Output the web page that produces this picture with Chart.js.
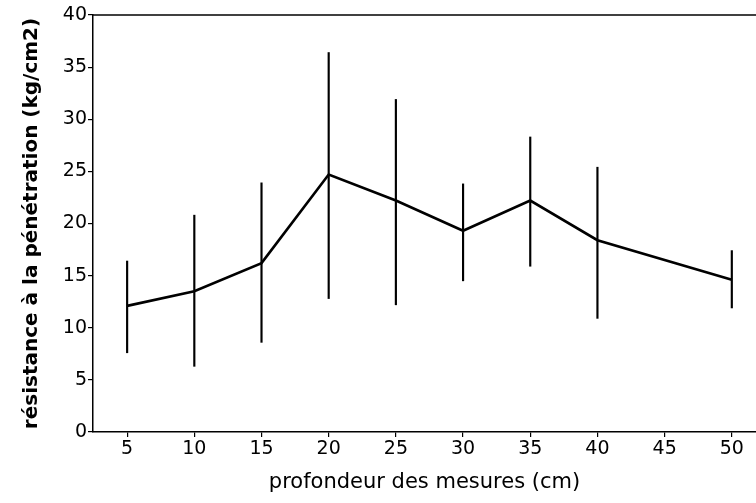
<!DOCTYPE html>
<html>
<head>
<meta charset="utf-8">
<script src="https://cdn.jsdelivr.net/npm/chart.js@4.4.0/dist/chart.umd.min.js"></script>
<style>
  html, body { margin: 0; padding: 0; background: #fff; }
  #wrap { width: 756px; height: 503px; }
</style>
</head>
<body>
<div id="wrap"><canvas id="chart"></canvas></div>
<script>
// profondeur (cm) et résistance moyenne / extrêmes (kg/cm2)
var depths = [5, 10, 15, 20, 25, 30, 35, 40, 50];
var means = [12.1, 13.5, 16.2, 24.7, 22.2, 19.3, 22.2, 18.4, 14.6];
var upper = [16.4, 20.8, 23.9, 36.4, 31.9, 23.8, 28.3, 25.4, 17.4];
var lower = [7.6, 6.3, 8.6, 12.8, 12.2, 14.5, 15.9, 10.9, 11.9];
var yTicks = [0, 5, 10, 15, 20, 25, 30, 35, 40];
var xTicks = [5, 10, 15, 20, 25, 30, 35, 40, 45, 50];

var font = "'DejaVu Sans', 'Liberation Sans', sans-serif";

var lineData = depths.map(function(d, i) { return {x: d, y: means[i]}; });
var barData = depths.map(function(d, i) { return {x: d, y: [lower[i], upper[i]]}; });

// top border of the frame
var topBorder = {
    id: 'topBorder',
    afterDraw: function(chart) {
        var ctx = chart.ctx;
        var a = chart.chartArea;
        ctx.save();
        ctx.strokeStyle = '#000';
        ctx.lineWidth = 1.5;
        ctx.beginPath();
        ctx.moveTo(a.left, a.top);
        ctx.lineTo(a.right, a.top);
        ctx.stroke();
        ctx.restore();
    }
};

const config = {
    data: {
        datasets: [{
            type: 'line',
            data: lineData,
            borderColor: '#000',
            borderWidth: 2.6,
            pointRadius: 0,
            tension: 0,
            order: 1
        }, {
            type: 'bar',
            data: barData,
            backgroundColor: '#000',
            borderWidth: 0,
            barThickness: 1.5,
            order: 2
        }]
    },
    options: {
        responsive: true,
        maintainAspectRatio: false,
        animation: false,
        layout: { padding: { top: 15, right: 0, left: 20, bottom: 8 } },
        plugins: {
            legend: { display: false },
            tooltip: { enabled: false }
        },
        scales: {
            x: {
                type: 'linear',
                offset: false,
                min: 2.46,
                max: 51.8,
                afterBuildTicks: function(scale) {
                    scale.ticks = xTicks.map(function(v) { return {value: v}; });
                },
                ticks: {
                    color: '#000',
                    font: { family: font, size: 19 },
                    padding: 1,
                    maxRotation: 0
                },
                grid: { offset: false, drawOnChartArea: false, drawTicks: true, tickLength: 5, color: '#000', lineWidth: 1.2 },
                border: { display: true, color: '#000', width: 1.5 },
                title: {
                    display: true,
                    text: 'profondeur des mesures (cm)',
                    color: '#000',
                    font: { family: font, size: 21 },
                    padding: { top: 2, bottom: 0 }
                },
                afterFit: function(scale) { scale.height = 63; }
            },
            y: {
                min: 0,
                max: 40,
                afterBuildTicks: function(scale) {
                    scale.ticks = yTicks.map(function(v) { return {value: v}; });
                },
                ticks: {
                    color: '#000',
                    font: { family: font, size: 19 },
                    padding: 1
                },
                grid: { drawOnChartArea: false, drawTicks: true, tickLength: 5, color: '#000', lineWidth: 1.2 },
                border: { display: true, color: '#000', width: 1.5 },
                title: {
                    display: true,
                    text: 'résistance à la pénétration (kg/cm2)',
                    color: '#000',
                    font: { family: font, size: 20, weight: 'bold' },
                    padding: { top: 0, bottom: 0 }
                },
                afterFit: function(scale) { scale.width = 73; }
            }
        }
    },
    plugins: [topBorder]
};

const ctx = document.getElementById('chart').getContext('2d');
new Chart(ctx, config);
</script>
</body>
</html>
